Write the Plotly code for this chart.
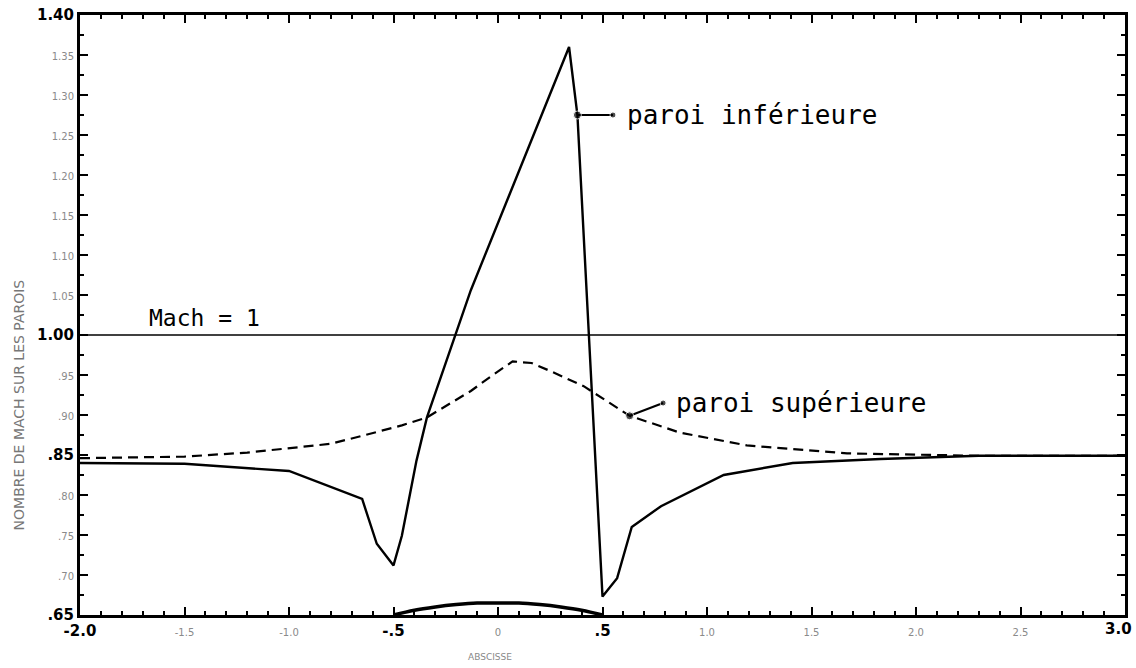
import plotly.graph_objects as go

# Lower wall Mach number distribution (solid)
x_inf = [-2.0, -1.5, -1.0, -0.65, -0.58, -0.5, -0.46, -0.39, -0.34, -0.13, 0.34, 0.38, 0.5, 0.57, 0.64, 0.78, 1.08, 1.41, 1.83, 2.3, 3.0]
m_inf = [0.840, 0.839, 0.830, 0.795, 0.739, 0.712, 0.749, 0.843, 0.897, 1.056, 1.360, 1.275, 0.673, 0.696, 0.760, 0.786, 0.825, 0.840, 0.845, 0.849, 0.849]

# Upper wall Mach number distribution (dashed)
x_sup = [-2.0, -1.5, -1.2, -0.8, -0.65, -0.46, -0.34, -0.13, -0.03, 0.07, 0.16, 0.25, 0.41, 0.63, 0.87, 1.19, 1.67, 2.3, 3.0]
m_sup = [0.846, 0.848, 0.853, 0.864, 0.874, 0.887, 0.897, 0.930, 0.949, 0.967, 0.965, 0.955, 0.936, 0.899, 0.878, 0.862, 0.852, 0.849, 0.849]

# Bump profile on the lower wall
x_bump = [-0.5, -0.4, -0.3, -0.2, -0.1, 0.0, 0.1, 0.2, 0.3, 0.4, 0.5]
y_bump = [0.650, 0.656, 0.660, 0.663, 0.665, 0.665, 0.665, 0.663, 0.660, 0.656, 0.650]

mach_sonic = 1.0

y_ticks = [0.65, 0.70, 0.75, 0.80, 0.85, 0.90, 0.95, 1.00, 1.05, 1.10, 1.15, 1.20, 1.25, 1.30, 1.35, 1.40]
y_labels = [".65", ".70", ".75", ".80", ".85", ".90", ".95", "1.00", "1.05", "1.10", "1.15", "1.20", "1.25", "1.30", "1.35", "1.40"]
y_bold = {".65", ".85", "1.00", "1.40"}

x_ticks = [-2.0, -1.5, -1.0, -0.5, 0.0, 0.5, 1.0, 1.5, 2.0, 2.5, 3.0]
x_labels = ["-2.0", "-1.5", "-1.0", "-.5", "0", ".5", "1.0", "1.5", "2.0", "2.5", "3.0"]
x_bold = {"-2.0", "-.5", ".5", "3.0"}

i_inf_marker = 11
i_sup_marker = 13


def fmt(lbl, bold_set):
    if lbl in bold_set:
        return "<b>" + lbl + "</b>"
    return "<span style='font-size:10px;color:#8a8a8a'>" + lbl + "</span>"


# The last x label sits at the right edge; it is drawn as an annotation so it stays inside
x_ticktext = [fmt(t, x_bold) for t in x_labels[:-1]] + [""]

fig = go.Figure()

fig.add_trace(go.Scatter(x=[-2.0, 3.0], y=[mach_sonic, mach_sonic], mode="lines",
                         line=dict(color="black", width=1.6), showlegend=False))
fig.add_trace(go.Scatter(x=x_sup, y=m_sup, mode="lines",
                         line=dict(color="black", width=2.2, dash="10px,6px"), showlegend=False))
fig.add_trace(go.Scatter(x=x_inf, y=m_inf, mode="lines",
                         line=dict(color="black", width=2.4), showlegend=False))
fig.add_trace(go.Scatter(x=x_bump, y=y_bump, mode="lines",
                         line=dict(color="black", width=3.5, shape="spline"), showlegend=False))

# Leader lines to the wall labels
lab_inf_x, lab_inf_y = 0.55, m_inf[i_inf_marker]
lab_sup_x, lab_sup_y = 0.79, 0.915
fig.add_trace(go.Scatter(x=[x_inf[i_inf_marker], lab_inf_x], y=[m_inf[i_inf_marker], lab_inf_y],
                         mode="lines+markers", line=dict(color="black", width=2.2),
                         marker=dict(color="black", size=[8, 6]), showlegend=False))
fig.add_trace(go.Scatter(x=[x_sup[i_sup_marker], lab_sup_x], y=[m_sup[i_sup_marker], lab_sup_y],
                         mode="lines+markers", line=dict(color="black", width=2.2),
                         marker=dict(color="black", size=[8, 6]), showlegend=False))

mono = "DejaVu Sans Mono"
fig.add_annotation(x=lab_inf_x + 0.06, y=lab_inf_y, text="paroi inférieure", showarrow=False,
                   xanchor="left", yanchor="middle", font=dict(family=mono, size=26, color="black"))
fig.add_annotation(x=lab_sup_x + 0.05, y=lab_sup_y, text="paroi supérieure", showarrow=False,
                   xanchor="left", yanchor="middle", font=dict(family=mono, size=26, color="black"))
fig.add_annotation(x=-1.68, y=mach_sonic, text="Mach = 1", showarrow=False,
                   xanchor="left", yanchor="bottom", yshift=2,
                   font=dict(family=mono, size=23, color="black"))

# Right-most x tick label
fig.add_annotation(x=x_ticks[-1], xref="x", yref="paper", y=0, yanchor="top", yshift=-3,
                   xanchor="right", xshift=9, text=fmt(x_labels[-1], x_bold), showarrow=False,
                   font=dict(family="DejaVu Sans", size=15, color="black"))

# Axis titles
fig.add_annotation(xref="paper", yref="paper", x=-0.058, y=0.35, text="NOMBRE DE MACH SUR LES PAROIS",
                   textangle=-90, showarrow=False, xanchor="center", yanchor="middle",
                   font=dict(family="DejaVu Sans", size=14, color="#777"))
fig.add_annotation(xref="paper", yref="paper", x=0.392, y=-0.07, text="ABSCISSE",
                   showarrow=False, xanchor="center", yanchor="middle",
                   font=dict(family="DejaVu Sans", size=9, color="#888"))

fig.update_xaxes(range=[-2.0, 3.0], tickvals=x_ticks, ticktext=x_ticktext,
                 ticks="inside", ticklen=8, tickwidth=1.5, tickcolor="black",
                 minor=dict(dtick=0.1, ticks="inside", ticklen=4, tickcolor="black"),
                 showline=True, linecolor="black", linewidth=3, mirror="ticks",
                 showgrid=False, zeroline=False, automargin=False, ticklabeloverflow="allow",
                 tickfont=dict(family="DejaVu Sans", size=15, color="black"))
fig.update_yaxes(range=[0.65, 1.40], tickvals=y_ticks, ticktext=[fmt(t, y_bold) for t in y_labels],
                 ticks="inside", ticklen=8, tickwidth=1.5, tickcolor="black",
                 minor=dict(dtick=0.025, ticks="inside", ticklen=4, tickcolor="black"),
                 showline=True, linecolor="black", linewidth=3, mirror="ticks",
                 showgrid=False, zeroline=False, automargin=False, ticklabeloverflow="allow",
                 tickfont=dict(family="DejaVu Sans", size=15, color="black"))

fig.update_layout(width=1136, height=668, margin=dict(l=80, r=11, t=15, b=53),
                  paper_bgcolor="white", plot_bgcolor="white")

fig.write_html("out.html")
